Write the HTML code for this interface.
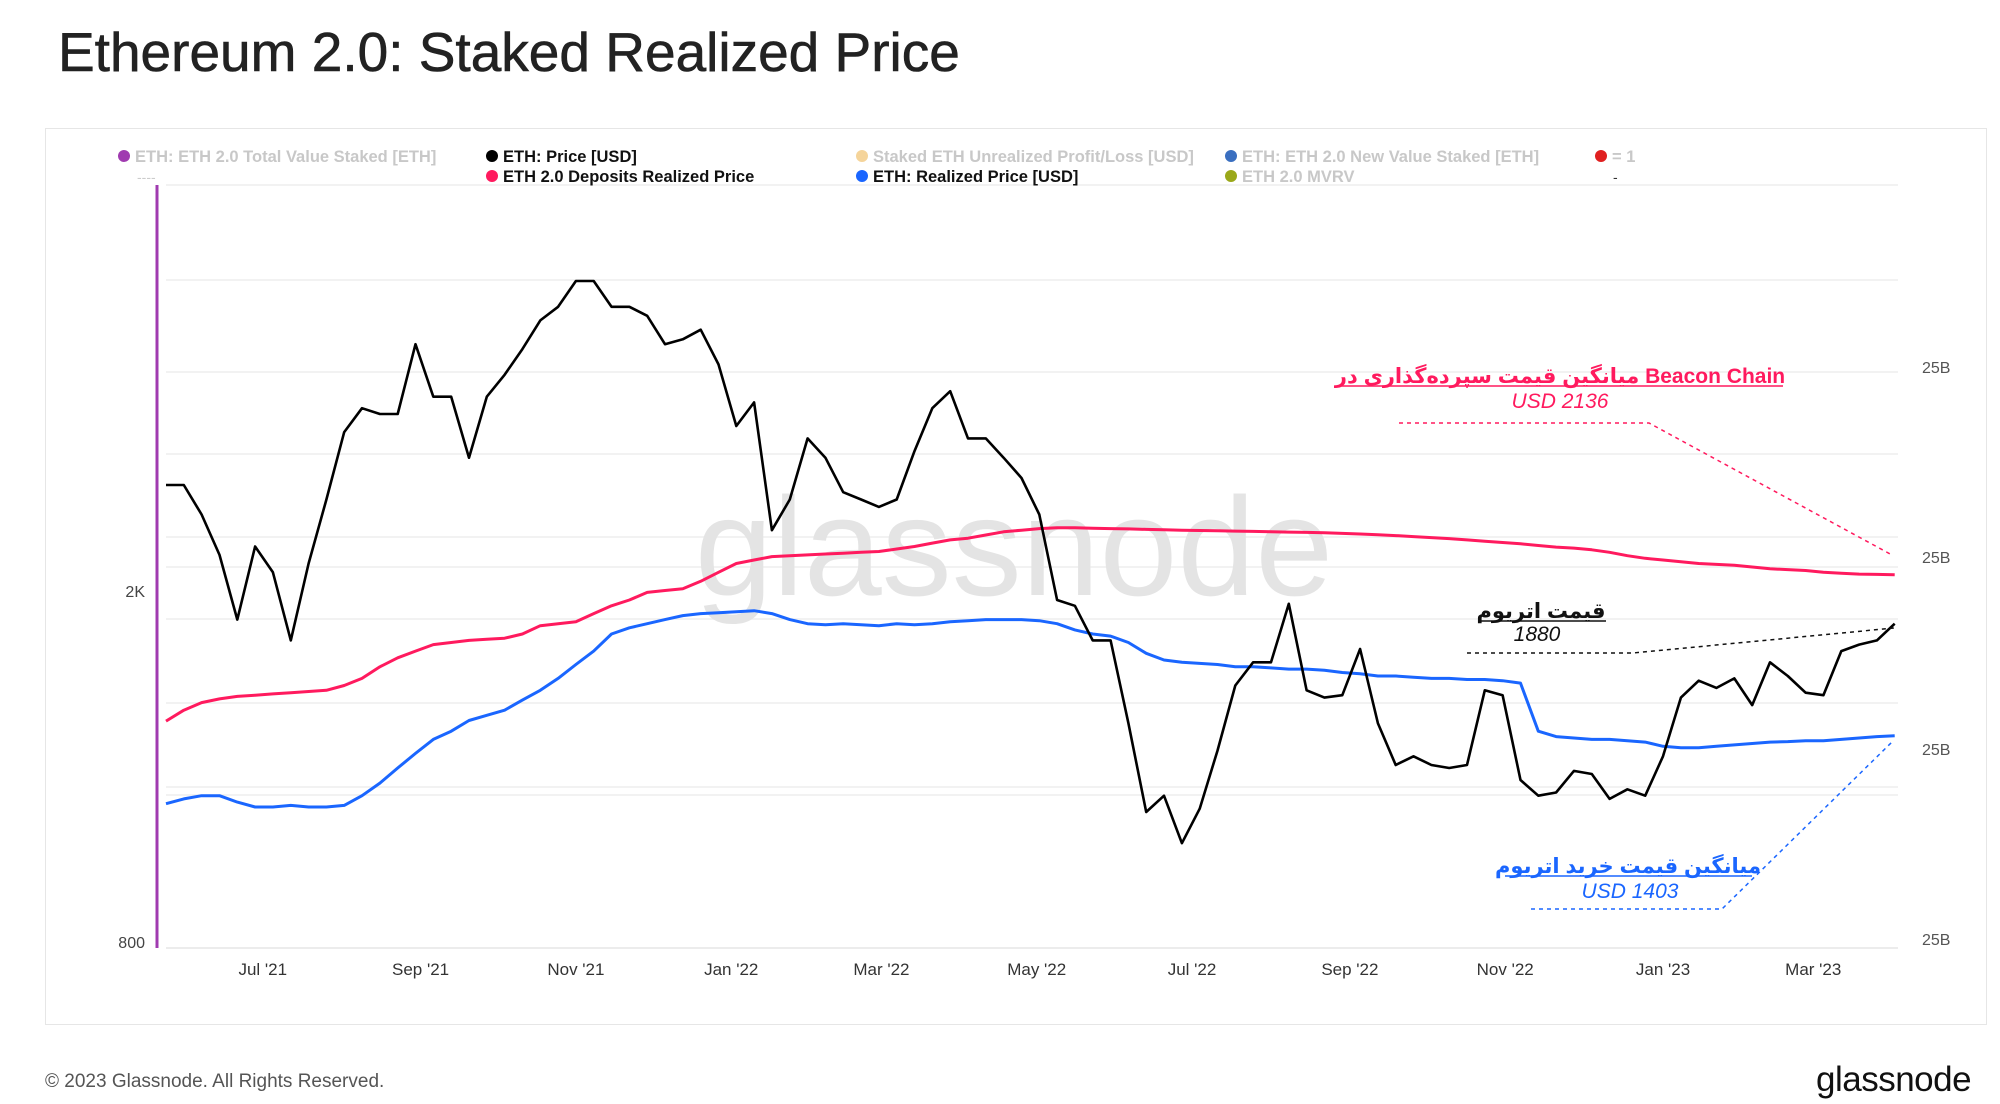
<!DOCTYPE html>
<html><head><meta charset="utf-8">
<style>
body{margin:0;width:2000px;height:1104px;background:#fff;font-family:"Liberation Sans","Noto Sans CJK SC",sans-serif;overflow:hidden;position:relative}
.t{position:absolute;white-space:nowrap}
</style></head><body>
<div class="t" style="left:58px;top:20px;font-size:55px;color:#222;-webkit-text-stroke:0.6px #222;">Ethereum 2.0: Staked Realized Price</div>
<div style="position:absolute;left:45px;top:128px;width:1940px;height:895px;border:1px solid #e6e6e6;"></div>
<svg id="chart" width="2000" height="1104" style="position:absolute;left:0;top:0" font-family="Liberation Sans, DejaVu Sans, sans-serif"></svg>
<div class="t" style="left:45px;top:1071px;font-size:19px;color:#555;">© 2023 Glassnode. All Rights Reserved.</div>
<div class="t" style="left:1816px;top:1060px;font-size:35px;color:#111;letter-spacing:-0.5px;">glassnode</div>
<script>
const priceValues=[2700,2700,2500,2250,1900,2300,2150,1800,2200,2600,3100,3300,3250,3250,3900,3400,3400,2900,3400,3600,3850,4150,4300,4600,4600,4300,4300,4200,3900,3950,4050,3700,
3150,3350,2400,2600,3050,2900,2650,2600,2550,2600,2950,3300,3450,3050,3050,2900,2750,2500,2000,1970,1800,1800,1450,1150,1200,1060,1160,1350,1600,1700,1700,1980,1580,1550,1560,1760,1450,1300,1330,1300,1290,1300,1580,1560,1250,1200,1210,1280,1270,1190,1220,1200,
1330,1550,1620,1590,1630,1520,1700,1640,1570,1560,1750,1780,1800,1880];
const realizedValues=[1175,1190,1200,1200,1180,1165,1165,1170,1165,1165,1170,1200,1240,1290,1340,1390,1420,1460,1480,1500,1540,1580,1630,1690,1750,1830,1860,1880,1900,1920,1930,1935,
1940,1945,1930,1900,1880,1875,1880,1875,1870,1880,1875,1880,1890,1895,1900,1900,1900,1895,1880,1850,1830,1820,1790,1740,1710,1700,1695,1690,1680,1680,1675,1670,1670,1665,1655,1650,1640,1640,1635,1630,1630,1625,1625,1620,1610,1420,1400,1395,1390,1390,1385,1380,
1365,1360,1360,1365,1370,1375,1380,1382,1385,1385,1390,1395,1400,1403];
const depositValues=[1458,1500,1530,1545,1555,1560,1565,1570,1575,1580,1600,1630,1680,1720,1750,1780,1790,1800,1805,1810,1830,1870,1880,1890,1930,1970,2000,2040,2050,2060,2100,2150,
2200,2220,2240,2245,2250,2255,2260,2265,2270,2285,2300,2320,2340,2350,2370,2390,2400,2410,2415,2415,2412,2410,2408,2405,2402,2400,2398,2396,2394,2392,2390,2388,2386,2384,2380,2376,2372,2366,2360,2354,2348,2340,2332,2324,2316,2306,2296,2290,2280,2265,2245,2230,
2220,2210,2200,2195,2190,2180,2170,2165,2160,2150,2145,2140,2138,2136];
const xTickLabels=["Jul '21","Sep '21","Nov '21","Jan '22","Mar '22","May '22","Jul '22","Sep '22","Nov '22","Jan '23","Mar '23"];
const xTickDays=[38,100,161,222,281,342,403,465,526,588,647];
const yTickValues=[2000,800];
const yTickLabels=["2K","800"];
const rightTickLabels=["25B","25B","25B","25B"];

const svg=document.getElementById('chart');
const NS='http://www.w3.org/2000/svg';
const x0=166, pxPerDay=2.546;
function xDay(d){return x0+d*pxPerDay;}
function yP(p){return 600-882*Math.log10(p/2000);}
function mk(tag,attrs,parent){const e=document.createElementNS(NS,tag);for(const k in attrs)e.setAttribute(k,attrs[k]);(parent||svg).appendChild(e);return e;}

[185,280,372,454,537,567,619,703,787,795].forEach(y=>{
  const g=mk('line',{x1:166,x2:1898,y1:y,y2:y,stroke:'#eeeeee','stroke-width':1.5});
  
  
});
const base=mk('line',{x1:166,x2:1898,y1:948,y2:948,stroke:'#e6e6e6','stroke-width':1.5});



const wm=mk('text',{x:1014,y:595,'font-size':140,'text-anchor':'middle',fill:'#e4e4e4'});
wm.textContent='glassnode';



const pl=mk('line',{x1:157,x2:157,y1:185,y2:948,stroke:'#a03bb0','stroke-width':3});



function series(vals,color,w,name){
  const pts=vals.map((v,i)=>xDay(i*7).toFixed(1)+','+yP(v).toFixed(1)).join(' ');
  const p=mk('polyline',{points:pts,fill:'none',stroke:color,'stroke-width':w,'stroke-linejoin':'round'});
  
  
}
series(depositValues,'#ff1a5e',3,'deposits-realized-price-line');
series(realizedValues,'#1a66ff',3,'realized-price-line');
series(priceValues,'#000',2.6,'eth-price-line');

xTickLabels.forEach((l,i)=>{
  const t=mk('text',{x:xDay(xTickDays[i]),y:975,'font-size':17,'text-anchor':'middle',fill:'#333'});
  t.textContent=l;
  
  
});
yTickLabels.forEach((l,i)=>{
  const t=mk('text',{x:145,y:yP(yTickValues[i])-3,'font-size':16,'text-anchor':'end',fill:'#444'});
  t.textContent=l;
  
  
});
[373,563,755,945].forEach((y,i)=>{
  const t=mk('text',{x:1922,y:y,'font-size':16,fill:'#555'});
  t.textContent=rightTickLabels[i];
  
  
});

const legend=[
 [124,156,'#a03bb0','ETH: ETH 2.0 Total Value Staked [ETH]','#c8c8c8'],
 [492,156,'#000','ETH: Price [USD]','#111'],
 [862,156,'#f5d49a','Staked ETH Unrealized Profit/Loss [USD]','#c8c8c8'],
 [1231,156,'#3a6fc0','ETH: ETH 2.0 New Value Staked [ETH]','#c8c8c8'],
 [1601,156,'#e02020','= 1','#c8c8c8'],
 [492,176,'#ff1a5e','ETH 2.0 Deposits Realized Price','#111'],
 [862,176,'#1a66ff','ETH: Realized Price [USD]','#111'],
 [1231,176,'#9aa81a','ETH 2.0 MVRV','#c8c8c8']];
legend.forEach(l=>{
  const g=mk('g',{});
  
  
  mk('circle',{cx:l[0],cy:l[1],r:6,fill:l[2]},g);
  const t=mk('text',{x:l[0]+11,y:l[1]+6,'font-size':16.5,fill:l[4],'font-weight':'bold'},g);
  t.textContent=l[3];
});
const d1=mk('text',{x:137,y:182,'font-size':14,fill:'#ccc'});d1.textContent='----';


const d2=mk('text',{x:1613,y:182,'font-size':14,fill:'#333'});d2.textContent='-';



function ann(lines,pts,color,name){
  const g=mk('g',{});
  
  
  mk('polyline',{points:pts,fill:'none',stroke:color,'stroke-width':1.5,'stroke-dasharray':'4,4'},g);
  lines.forEach(l=>{
    const t=mk('text',{x:l.x,y:l.y,'font-size':l.s,'text-anchor':'middle',fill:color,'font-style':l.i?'italic':'normal','font-weight':l.b?'bold':'normal','font-family':'Liberation Sans, Noto Sans CJK SC, DejaVu Sans, sans-serif'},g);
    t.textContent=l.t;
  });
  return g;
}
const ga=ann([{x:1560,y:383,s:21,b:1,t:'میانگین قیمت سپرده‌گذاری در Beacon Chain'},{x:1560,y:408,s:21,i:1,t:'USD 2136'}],'1399,423 1649,423 1892,555','#ff1a5e','deposit-annotation');
mk('line',{x1:1337,x2:1783,y1:386,y2:386,stroke:'#ff1a5e','stroke-width':1.5},ga);
const gb=ann([{x:1541,y:618,s:21,b:1,t:'قیمت اتریوم'},{x:1537,y:641,s:21,i:1,t:'1880'}],'1467,653 1633,653 1894,628','#111','price-annotation');
mk('line',{x1:1478,x2:1606,y1:621,y2:621,stroke:'#111','stroke-width':1.5},gb);
const gc=ann([{x:1628,y:873,s:21,b:1,t:'میانگین قیمت خرید اتریوم'},{x:1630,y:898,s:21,i:1,t:'USD 1403'}],'1531,909 1722,909 1892,742','#1a66ff','realized-annotation');
mk('line',{x1:1505,x2:1752,y1:876,y2:876,stroke:'#1a66ff','stroke-width':1.5},gc);
</script>
</body></html>
